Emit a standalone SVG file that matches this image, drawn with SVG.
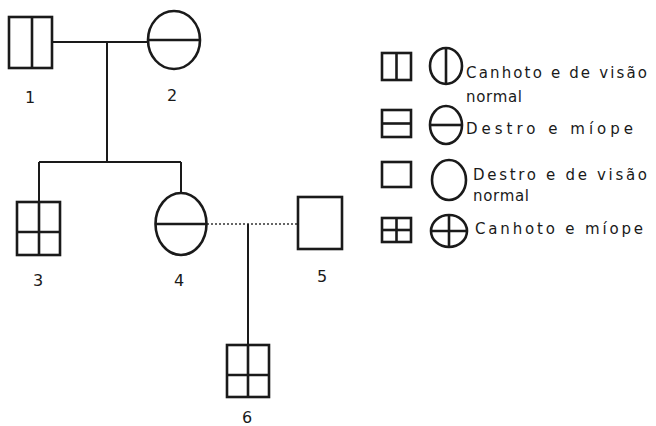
<svg xmlns="http://www.w3.org/2000/svg" width="656" height="426" viewBox="0 0 656 426">
<style>
.s{fill:none;stroke:#1a1a1a;stroke-width:2.6}
.l{fill:none;stroke:#1a1a1a;stroke-width:2}
.d{fill:none;stroke:#333;stroke-width:1.6;stroke-dasharray:2 2}
.t{font-family:"DejaVu Sans","Liberation Sans",Arial,sans-serif;font-size:15px;fill:#1a1a1a}
.n{font-family:"DejaVu Sans","Liberation Sans",Arial,sans-serif;font-size:16px;fill:#1a1a1a;text-anchor:middle}
</style>
<rect width="656" height="426" fill="#fff"/>
<g id="connectors">
<line class="l" x1="52" y1="42" x2="148" y2="42"/>
<line class="l" x1="107" y1="42" x2="107" y2="162"/>
<line class="l" x1="39" y1="162" x2="181" y2="162"/>
<line class="l" x1="39" y1="162" x2="39" y2="202"/>
<line class="l" x1="181" y1="162" x2="181" y2="193"/>
<line class="d" x1="207" y1="224" x2="297" y2="224"/>
<line class="l" x1="248" y1="224" x2="248" y2="345"/>
</g>
<g id="node1">
<rect class="s" x="9" y="17" width="43" height="51"/>
<line class="s" x1="32" y1="17" x2="32" y2="68"/>
<text class="n" x="30" y="103">1</text>
</g>
<g id="node2">
<ellipse class="s" cx="174" cy="40" rx="26" ry="29"/>
<line class="s" x1="148" y1="40" x2="200" y2="40"/>
<text class="n" x="172" y="101">2</text>
</g>
<g id="node3">
<rect class="s" x="17" y="202" width="43" height="53"/>
<line class="s" x1="39" y1="202" x2="39" y2="255"/>
<line class="s" x1="17" y1="232" x2="60" y2="232"/>
<text class="n" x="38" y="286">3</text>
</g>
<g id="node4">
<ellipse class="s" cx="181" cy="224" rx="25.5" ry="31"/>
<line class="s" x1="155.5" y1="224" x2="206.5" y2="224"/>
<text class="n" x="179" y="286">4</text>
</g>
<g id="node5">
<rect class="s" x="298" y="197" width="44" height="52"/>
<text class="n" x="322" y="282">5</text>
</g>
<g id="node6">
<rect class="s" x="227" y="345" width="42" height="52"/>
<line class="s" x1="248" y1="345" x2="248" y2="397"/>
<line class="s" x1="227" y1="375" x2="269" y2="375"/>
<text class="n" x="247" y="423">6</text>
</g>
<g id="legend">
<rect class="s" x="382" y="53" width="29" height="27"/>
<line class="s" x1="396.5" y1="53" x2="396.5" y2="80"/>
<ellipse class="s" cx="446" cy="66" rx="16" ry="18"/>
<line class="s" x1="446" y1="48" x2="446" y2="84"/>
<text class="t" x="466" y="78" textLength="181" lengthAdjust="spacing">Canhoto e de visão</text>
<text class="t" x="466" y="102" textLength="56" lengthAdjust="spacing">normal</text>
<rect class="s" x="382" y="110" width="29" height="27"/>
<line class="s" x1="382" y1="123.5" x2="411" y2="123.5"/>
<ellipse class="s" cx="446" cy="125" rx="16" ry="19"/>
<line class="s" x1="430" y1="125" x2="462" y2="125"/>
<text class="t" x="466" y="134" textLength="167" lengthAdjust="spacing">Destro e míope</text>
<rect class="s" x="382" y="162" width="29" height="25"/>
<ellipse class="s" cx="449" cy="180" rx="17" ry="20"/>
<text class="t" x="473" y="180" textLength="174" lengthAdjust="spacing">Destro e de visão</text>
<text class="t" x="473" y="201" textLength="56" lengthAdjust="spacing">normal</text>
<rect class="s" x="382" y="218" width="29" height="24"/>
<line class="s" x1="396.5" y1="218" x2="396.5" y2="242"/>
<line class="s" x1="382" y1="230" x2="411" y2="230"/>
<ellipse class="s" cx="449" cy="231" rx="18" ry="16"/>
<line class="s" x1="449" y1="215" x2="449" y2="247"/>
<line class="s" x1="431" y1="231" x2="467" y2="231"/>
<text class="t" x="475" y="234" textLength="168" lengthAdjust="spacing">Canhoto e míope</text>
</g>
</svg>
